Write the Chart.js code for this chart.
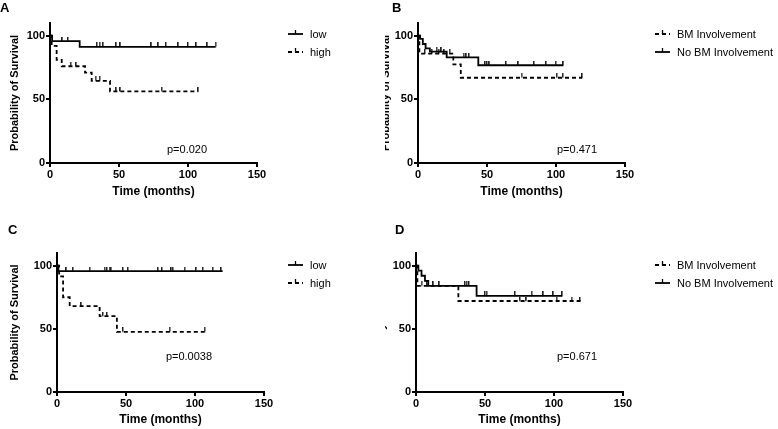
<!DOCTYPE html>
<html>
<head>
<meta charset="utf-8">
<script src="https://cdn.jsdelivr.net/npm/chart.js@4.4.0/dist/chart.umd.min.js"></script>
<style>
  body { margin: 0; background: #fff; width: 778px; height: 429px; position: relative; overflow: hidden; }
  canvas { position: absolute; }
</style>
</head>
<body>
<canvas id="cA" width="389" height="214" style="left:0;top:0"></canvas>
<canvas id="cB" width="393" height="214" style="left:385px;top:0"></canvas>
<canvas id="cC" width="389" height="215" style="left:0;top:214px"></canvas>
<canvas id="cD" width="393" height="215" style="left:385px;top:214px"></canvas>
<script>
// A - low / high
const aLowTime = [0, 1.5, 21.5, 120];
const aLowSurv = [100, 95.7, 91.3, 91.3];
const aLowCens = [9, 13, 34, 36, 38.5, 48, 51, 73.5, 78.5, 84, 93, 100, 106, 114, 120];
const aHighTime = [0, 1.2, 4.8, 8.5, 25.4, 30.2, 43.5, 107.5];
const aHighSurv = [100, 92, 81, 76, 71, 64.5, 56.3, 56.3];
const aHighCens = [15, 19, 33, 36, 48, 51, 81, 107.5];
// B - BM involvement
const bBmTime = [0, 1, 25.6, 31, 119];
const bBmSurv = [100, 86, 77.5, 67, 67];
const bBmCens = [5, 10, 15, 19, 23, 75, 100.6, 105, 119];
const bNoTime = [0, 1.5, 3.5, 5.5, 8.6, 20.8, 43.7, 105.3];
const bNoSurv = [100, 97.5, 93.5, 90, 87.5, 83, 76.8, 76.8];
const bNoCens = [13.5, 17, 33, 35, 37, 48.6, 50, 51.7, 63.8, 72.7, 84.1, 92.8, 99.8, 105.3];
// C - low / high
const cLowTime = [0, 1, 120];
const cLowSurv = [100, 95.7, 95.7];
const cLowCens = [6.8, 11.6, 23.7, 34.5, 36.2, 38.1, 39.3, 47.8, 51.4, 73.2, 76.1, 82.8, 84, 92.5, 100.9, 105.7, 112.9, 119];
const cHighTime = [0, 1.5, 4.4, 9.2, 30.9, 43.4, 107];
const cHighSurv = [100, 91.5, 75, 68, 60, 47.6, 47.6];
const cHighCens = [17.6, 33.3, 36.2, 47.8, 81.6, 107];
// D - BM involvement
const dBmTime = [0, 1, 30.7, 120];
const dBmSurv = [100, 84, 72, 72];
const dBmCens = [4, 8, 75.4, 80, 101.9, 112.7, 118.8];
const dNoTime = [0, 1.7, 4, 6.5, 8.9, 43.9, 106];
const dNoSurv = [100, 96, 92, 88, 84, 76, 76];
const dNoCens = [12.6, 16.9, 35.5, 36.7, 38.4, 50, 51.2, 71.7, 83.8, 92.3, 99.5, 106];

const xTicks = [0, 50, 100, 150];
const yTicks = [0, 50, 100];

const FONT = '"Liberation Sans", Arial, sans-serif';
const DASH = [4, 3];

// censor mark: short vertical tick sitting on top of the curve
const tick = document.createElement('canvas');
tick.width = 2; tick.height = 9;
const tctx = tick.getContext('2d');
tctx.fillStyle = '#222';
tctx.fillRect(0, 0, 1.5, 4.5);

const steps = (times, surv) => times.map((t, i) => ({ x: t, y: surv[i] }));
const survAt = (times, surv, t) => {
  let v = surv[0];
  times.forEach((tt, i) => { if (tt <= t) v = surv[i]; });
  return v;
};
const censPts = (times, surv, cens) => cens.map(t => ({ x: t, y: survAt(times, surv, t) }));

const curve = (times, surv, dashed) => ({
  type: 'line',
  data: steps(times, surv),
  stepped: true,
  borderColor: '#000',
  borderWidth: 1.8,
  borderDash: dashed ? DASH : [],
  pointRadius: 0,
  fill: false,
});
const marks = (times, surv, cens) => ({
  type: 'scatter',
  data: censPts(times, surv, cens),
  pointStyle: tick,
  pointRadius: 4,
  showLine: false,
});

// letters, legend and p value
const extras = {
  id: 'extras',
  afterDraw(chart, args, o) {
    const ctx = chart.ctx;
    ctx.save();
    ctx.fillStyle = '#000';
    ctx.textBaseline = 'middle';
    ctx.font = 'bold 13px ' + FONT;
    ctx.textAlign = 'left';
    ctx.fillText(o.letter, o.letterX, o.letterY);

    ctx.font = '11px ' + FONT;
    ctx.textAlign = 'center';
    ctx.fillText(o.p, o.pX, o.pY);

    ctx.textAlign = 'left';
    o.legend.forEach((it, i) => {
      const y = o.legY + i * 18;
      ctx.strokeStyle = '#000';
      ctx.lineWidth = 1.8;
      ctx.setLineDash(it.dashed ? DASH : []);
      ctx.beginPath();
      ctx.moveTo(o.legX, y);
      ctx.lineTo(o.legX + 15, y);
      ctx.stroke();
      ctx.setLineDash([]);
      ctx.lineWidth = 1.3;
      ctx.beginPath();
      ctx.moveTo(o.legX + 7.5, y);
      ctx.lineTo(o.legX + 7.5, y - 4);
      ctx.stroke();
      ctx.fillText(it.label, o.legX + 22, y + 0.5);
    });
    ctx.restore();
  }
};

const makeChart = (id, datasets, lay, ex) => new Chart(document.getElementById(id), {
  type: 'line',
  data: { datasets },
  plugins: [extras],
  options: {
    responsive: false,
    animation: false,
    devicePixelRatio: 1,
    layout: { padding: { left: 0, top: lay.top, right: lay.right, bottom: 0 } },
    plugins: { legend: { display: false }, tooltip: { enabled: false }, extras: ex },
    scales: {
      x: {
        type: 'linear', min: 0, max: 150,
        afterBuildTicks: s => { s.ticks = xTicks.map(v => ({ value: v })); },
        afterFit: s => { s.height = lay.xH; },
        grid: { display: true, drawOnChartArea: false, drawTicks: true, tickLength: 4, color: '#000', lineWidth: 2 },
        border: { display: true, color: '#000', width: 2 },
        ticks: { color: '#000', padding: 1, maxRotation: 0, font: { family: FONT, size: 11, weight: 'bold' } },
        title: { display: true, text: 'Time (months)', color: '#000', padding: { top: 0, bottom: lay.xTitle },
                 font: { family: FONT, size: 12, weight: 'bold' } },
      },
      y: {
        type: 'linear', min: 0, max: 110,
        afterBuildTicks: s => { s.ticks = yTicks.map(v => ({ value: v })); },
        afterFit: s => { s.width = lay.yW; },
        grid: { display: true, drawOnChartArea: false, drawTicks: true, tickLength: 4, color: '#000', lineWidth: 2 },
        border: { display: true, color: '#000', width: 2 },
        ticks: { color: '#000', padding: 1, font: { family: FONT, size: 11, weight: 'bold' } },
        title: { display: true, text: 'Probability of Survival', color: '#000', padding: { top: lay.yTitle, bottom: 0 },
                 font: { family: FONT, size: 11, weight: 'bold' } },
      },
    },
  },
});

makeChart('cA',
  [curve(aLowTime, aLowSurv, false), marks(aLowTime, aLowSurv, aLowCens),
   curve(aHighTime, aHighSurv, true), marks(aHighTime, aHighSurv, aHighCens)],
  { top: 23, right: 132, xH: 51, yW: 50, xTitle: 15, yTitle: 8 },
  { letter: 'A', letterX: 0, letterY: 8, p: 'p=0.020', pX: 187, pY: 150,
    legX: 288, legY: 34, legend: [{ label: 'low', dashed: false }, { label: 'high', dashed: true }] });

makeChart('cB',
  [curve(bNoTime, bNoSurv, false), marks(bNoTime, bNoSurv, bNoCens),
   curve(bBmTime, bBmSurv, true), marks(bBmTime, bBmSurv, bBmCens)],
  { top: 23, right: 153, xH: 51, yW: 33, xTitle: 15, yTitle: -5.6 },
  { letter: 'B', letterX: 7, letterY: 8, p: 'p=0.471', pX: 192, pY: 150,
    legX: 270, legY: 34, legend: [{ label: 'BM Involvement', dashed: true }, { label: 'No BM Involvement', dashed: false }] });

makeChart('cC',
  [curve(cLowTime, cLowSurv, false), marks(cLowTime, cLowSurv, cLowCens),
   curve(cHighTime, cHighSurv, true), marks(cHighTime, cHighSurv, cHighCens)],
  { top: 39, right: 125, xH: 37, yW: 57, xTitle: 2, yTitle: 8 },
  { letter: 'C', letterX: 8, letterY: 16, p: 'p=0.0038', pX: 189, pY: 143,
    legX: 288, legY: 51, legend: [{ label: 'low', dashed: false }, { label: 'high', dashed: true }] });

makeChart('cD',
  [curve(dNoTime, dNoSurv, false), marks(dNoTime, dNoSurv, dNoCens),
   curve(dBmTime, dBmSurv, true), marks(dBmTime, dBmSurv, dBmCens)],
  { top: 39, right: 155, xH: 37, yW: 31, xTitle: 2, yTitle: -9.6 },
  { letter: 'D', letterX: 10, letterY: 16, p: 'p=0.671', pX: 192, pY: 143,
    legX: 270, legY: 51, legend: [{ label: 'BM Involvement', dashed: true }, { label: 'No BM Involvement', dashed: false }] });
</script>
</body>
</html>
